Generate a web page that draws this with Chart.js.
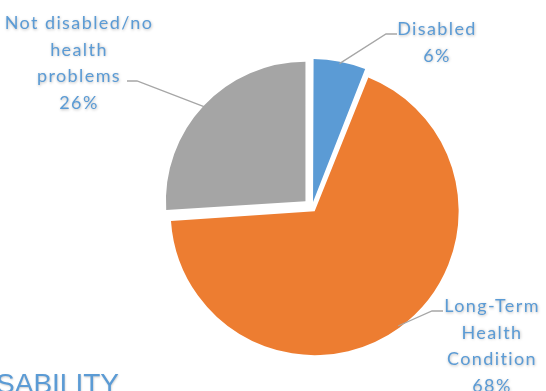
<!DOCTYPE html>
<html>
<head>
<meta charset="utf-8">
<script src="https://cdn.jsdelivr.net/npm/chart.js@4.4.0/dist/chart.umd.min.js"></script>
<style>
  html, body { margin: 0; padding: 0; background: #ffffff; }
  #wrap { position: relative; width: 546px; height: 391px; }
</style>
</head>
<body>
<div id="wrap"><canvas id="c" width="546" height="391"></canvas></div>
<script>
// ---- data ----
const categories = ['Disabled', 'Long-Term Health Condition', 'Not disabled/no health problems'];
const values = [6, 68, 26];
// how each category label wraps on the chart
const labelLines = [
  ['Disabled'],
  ['Long-Term', 'Health', 'Condition'],
  ['Not disabled/no', 'health', 'problems']
];
const colors = ['#5B9BD5', '#ED7D31', '#A5A5A5'];
const titleText = 'DISABILITY';

// ---- styling / layout ----
const EXPLODE = 9; // px each slice is pulled out
const labelLayout = [
  { cx: 437, baseline: 35, elbowX: 386, elbowY: 34, endX: 397 },
  { cx: 492, baseline: 312, elbowX: 432, elbowY: 311, endX: 443 },
  { cx: 79, baseline: 29, elbowX: 137, elbowY: 81, endX: 127 }
];
const lineStep = 26.7;
const total = values.reduce((a, b) => a + b, 0);

// Chart.js arc translates by offset/4 * (1 + fix); invert so every slice moves EXPLODE px
function sliceOffset(ctx) {
  const v = values[ctx.dataIndex];
  const circ = v / total * Math.PI * 2;
  const fix = 1 - Math.sin(Math.min(Math.PI, circ));
  return 4 * EXPLODE / (1 + fix);
}

const labelPlugin = {
  id: 'pieLabels',
  afterDraw(chart) {
    const ctx = chart.ctx;
    const meta = chart.getDatasetMeta(0);
    ctx.save();
    meta.data.forEach((arc, i) => {
      const p = arc.getProps(['x', 'y', 'startAngle', 'endAngle', 'outerRadius'], true);
      const mid = (p.startAngle + p.endAngle) / 2;
      const ox = p.x + Math.cos(mid) * EXPLODE;
      const oy = p.y + Math.sin(mid) * EXPLODE;
      const r = p.outerRadius - 2;
      const sx = ox + Math.cos(mid) * r;
      const sy = oy + Math.sin(mid) * r;
      const L = labelLayout[i];
      ctx.beginPath();
      ctx.strokeStyle = '#A6A6A6';
      ctx.lineWidth = 1.3;
      ctx.moveTo(sx, sy);
      ctx.lineTo(L.elbowX, L.elbowY);
      ctx.lineTo(L.endX, L.elbowY);
      ctx.stroke();
    });
    ctx.font = '18px Lato';
    ctx.letterSpacing = '1.4px';
    ctx.textAlign = 'center';
    ctx.textBaseline = 'alphabetic';
    ctx.fillStyle = '#5B9BD5';
    ctx.shadowColor = 'rgba(0,0,0,0.28)';
    ctx.shadowBlur = 3;
    ctx.shadowOffsetX = 0.5;
    ctx.shadowOffsetY = 0.5;
    values.forEach((v, i) => {
      const L = labelLayout[i];
      const lines = labelLines[i].concat([Math.round(v / total * 100) + '%']);
      lines.forEach((t, k) => {
        ctx.fillText(t, L.cx, L.baseline + k * lineStep);
      });
    });
    ctx.shadowColor = 'rgba(0,0,0,0.2)';
    ctx.shadowBlur = 2;
    ctx.letterSpacing = '0px';
    ctx.font = '28px "Liberation Sans"';
    ctx.textAlign = 'right';
    ctx.fillText(titleText, 119, 393);
    ctx.restore();
  }
};

new Chart(document.getElementById('c'), {
  type: 'pie',
  data: {
    labels: categories,
    datasets: [{
      data: values,
      backgroundColor: colors,
      borderWidth: 0,
      offset: sliceOffset,
      radius: 139.5
    }]
  },
  options: {
    responsive: false,
    animation: false,
    layout: { padding: { left: 162, right: 84, top: 61.5, bottom: 37.5 } },
    plugins: { legend: { display: false }, tooltip: { enabled: false } }
  },
  plugins: [labelPlugin]
});
</script>
</body>
</html>
